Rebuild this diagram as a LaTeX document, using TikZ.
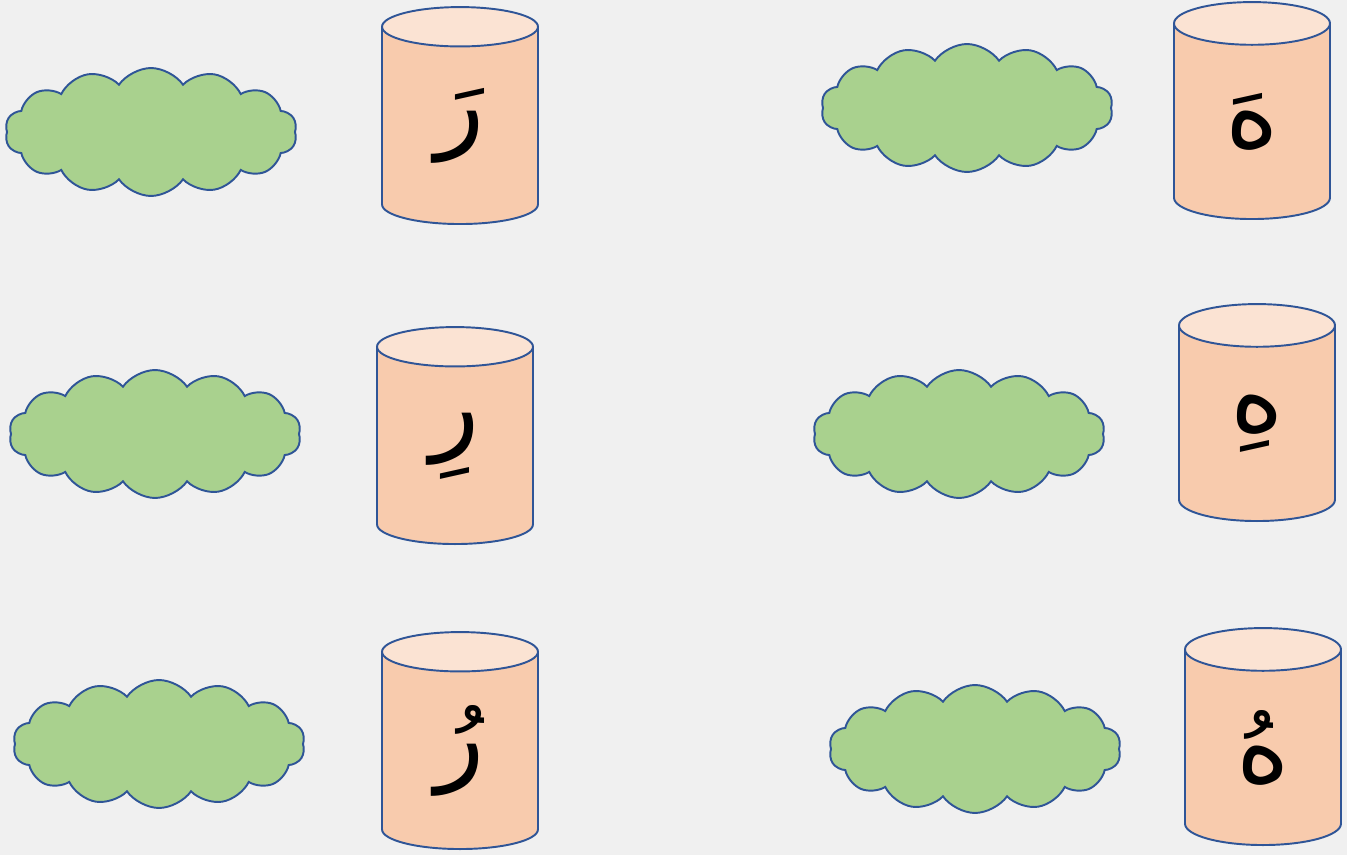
\documentclass[tikz,border=0pt]{standalone}
\usepackage{fontspec}
\usepackage{xcolor}
\usetikzlibrary{shapes.geometric,shapes.symbols}
\newfontfamily\arabicfont[Script=Arabic]{DejaVu Sans}
\TeXXeTstate=1
\definecolor{bggray}{HTML}{F0F0F0}
\definecolor{edgeblue}{HTML}{2F5597}
\definecolor{peach}{HTML}{F8CBAD}
\definecolor{peachtop}{HTML}{FBE3D3}
\definecolor{leafgreen}{HTML}{A9D18E}

\begin{document}
\begin{tikzpicture}[
  x=0.02cm, y=-0.02cm,
  can/.style={cylinder, shape border rotate=90, aspect=0.8, draw=edgeblue, line width=1.1pt,
    cylinder uses custom fill, cylinder body fill=peach, cylinder end fill=peachtop,
    minimum width=3.12cm, minimum height=4.34cm, inner sep=0pt, anchor=south,
    font=\arabicfont\fontsize{58}{64}\selectfont},
  puff/.style={cloud, cloud puffs=14, cloud puff arc=110, draw=edgeblue, line width=1.1pt,
    fill=leafgreen, minimum width=5.84cm, minimum height=2.56cm, inner sep=0pt}
]
\fill[bggray] (0,0) rectangle (1347,855);
\useasboundingbox (0,0) rectangle (1347,855);

\node[puff] (cloudRa) at (151,132) {};
\node[puff] (cloudRi) at (155,434) {};
\node[puff] (cloudRu) at (159,744) {};
\node[puff] (cloudHa) at (967,108) {};
\node[puff] (cloudHi) at (959,434) {};
\node[puff] (cloudHu) at (975,749) {};

% cylinders placed by their bottom edge
\node[can] (canRa) at (460,225) {\beginR رَ\endR};
\node[can] (canRi) at (455,545) {\beginR رِ\endR};
\node[can] (canRu) at (460,850) {\beginR رُ\endR};
\node[can] (canHa) at (1252,220) {\beginR هَ\endR};
\node[can] (canHi) at (1257,522) {\beginR هِ\endR};
\node[can] (canHu) at (1263,846) {\beginR هُ\endR};
\end{tikzpicture}
\end{document}
